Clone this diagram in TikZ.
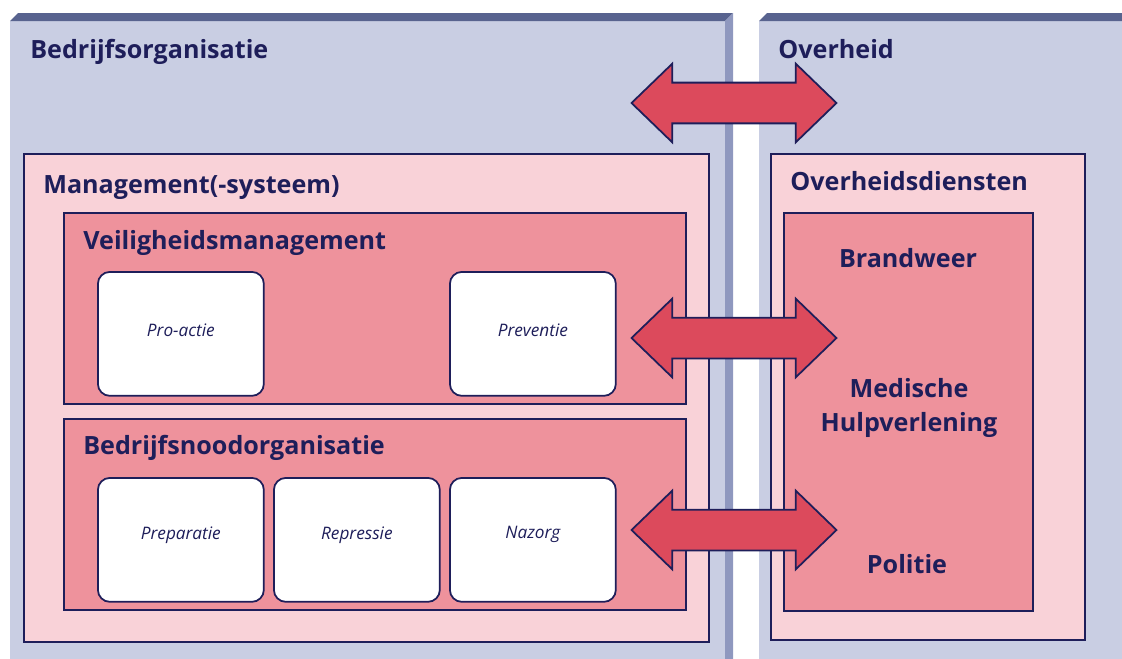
\documentclass[tikz,border=0pt]{standalone}
\usepackage{fontspec}
\setmainfont{Open Sans}
\usetikzlibrary{shapes.arrows}
\definecolor{paneel}{HTML}{C9CEE3}
\definecolor{paneelrand}{HTML}{58638F}
\definecolor{paneelzij}{HTML}{8F98BF}
\definecolor{lichtroze}{HTML}{F9D2D8}
\definecolor{donkerroze}{HTML}{EE929C}
\definecolor{pijlrood}{HTML}{DC4A5C}
\definecolor{navy}{HTML}{1E1E5A}
\newcommand{\kopfont}{\fontsize{14.3}{17}\selectfont\bfseries}
\newcommand{\blokfont}{\fontsize{9.8}{11}\selectfont\itshape}

\begin{document}
\begin{tikzpicture}[x=0.02cm,y=-0.02cm,
    kader/.style={draw=navy,line width=1pt,anchor=north west,inner sep=0pt},
    licht/.style={kader,fill=lichtroze},
    donker/.style={kader,fill=donkerroze},
    blok/.style={kader,fill=white,rounded corners=0.24cm,minimum width=3.32cm,minimum height=2.48cm},
    bloktekst/.style={text=navy,font=\blokfont},
    kop/.style={anchor=base west,text=navy,font=\kopfont,inner sep=0pt},
    dienst/.style={anchor=base,text=navy,font=\kopfont,align=center,inner sep=0pt},
    pijl/.style={double arrow,draw=navy,fill=pijlrood,line width=1pt,inner xsep=0pt,inner ysep=0.39cm,
        double arrow head extend=0.38cm,double arrow tip angle=88,minimum height=4.1cm}]
    \useasboundingbox (0,0) rectangle (1122,659);

    % Two panels, front face with a thin top and side face
    \fill[paneel] (10,21) rectangle (725,659);
    \fill[paneelrand] (10,21) -- (18,13) -- (733,13) -- (725,21) -- cycle;
    \fill[paneelzij] (725,21) -- (733,13) -- (733,659) -- (725,659) -- cycle;
    \fill[paneel] (759,21) rectangle (1122,659);
    \fill[paneelrand] (759,21) -- (767,13) -- (1122,13) -- (1122,21) -- cycle;
    \node[kop] (bedrijf) at (30,58) {Bedrijfsorganisatie};
    \node[kop] (overheid) at (778,58) {Overheid};

    % Management side
    \node[licht,minimum width=13.7cm,minimum height=9.76cm] (mgmt) at (23,153) {};
    \node[kop] (mgmt-t) at (43,193) {Management(-systeem)};
    \node[donker,minimum width=12.44cm,minimum height=3.82cm] (veilig) at (63,212) {};
    \node[kop] (veilig-t) at (83,249) {Veiligheidsmanagement};
    \node[donker,minimum width=12.44cm,minimum height=3.82cm] (nood) at (63,418) {};
    \node[kop] (nood-t) at (83,454) {Bedrijfsnoodorganisatie};

    % White blocks
    \node[blok] (proactie) at (97,271) {};
    \node[blok] (preventie) at (449,271) {};
    \node[blok] (preparatie) at (97,477) {};
    \node[blok] (repressie) at (273,477) {};
    \node[blok] (nazorg) at (449,477) {};
    \node[bloktekst] at ([yshift=0.08cm]proactie.center) {Pro-actie};
    \node[bloktekst] at ([yshift=0.08cm]preventie.center) {Preventie};
    \node[bloktekst] at ([yshift=0.1cm]preparatie.center) {Preparatie};
    \node[bloktekst] at ([yshift=0.1cm]repressie.center) {Repressie};
    \node[bloktekst] at ([yshift=0.1cm]nazorg.center) {Nazorg};

    % Government side
    \node[licht,minimum width=6.28cm,minimum height=9.72cm] (diensten) at (770,153) {};
    \node[kop] (diensten-t) at (790,190) {Overheidsdiensten};
    \node[donker,minimum width=4.98cm,minimum height=7.96cm] (hulp) at (783,212) {};
    \node[dienst] (brandweer) at (908,267) {Brandweer};
    \node[dienst,anchor=center] (medisch) at (909,408) {Medische\\[2pt]Hulpverlening};
    \node[dienst] (politie) at (907,573) {Politie};

    % Double arrows
    \node[pijl] (pijl-top) at (734,103) {};
    \node[pijl] (pijl-veilig) at (734,338) {};
    \node[pijl] (pijl-nood) at (734,530) {};
\end{tikzpicture}
\end{document}
